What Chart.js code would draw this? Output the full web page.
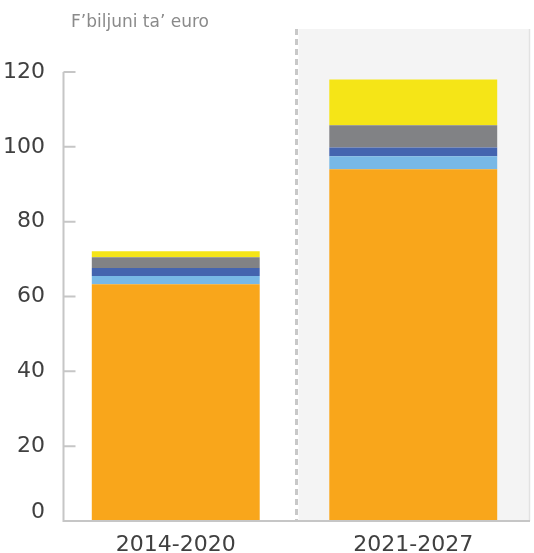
<!DOCTYPE html>
<html>
<head>
<meta charset="utf-8">
<script src="https://cdn.jsdelivr.net/npm/chart.js@4"></script>
<style>
html,body{margin:0;padding:0;background:#fff;}
#wrap{width:534px;height:553px;position:relative;}
</style>
</head>
<body>
<div id="wrap"><canvas id="c" width="534" height="553"></canvas></div>
<script>
const categories = ['2014-2020', '2021-2027'];
const seriesOrange = [63.3, 94.0];
const seriesLightBlue = [2.2, 3.5];
const seriesDarkBlue = [2.1, 2.3];
const seriesGrey = [2.9, 6.0];
const seriesYellow = [1.6, 12.2];
const yTicks = [0, 20, 40, 60, 80, 100, 120];
const unitLabel = 'F\u2019biljuni ta\u2019 euro';

const FONT = "'DejaVu Sans', sans-serif";
const AXIS = '#c6c6c6';

const decor = {
  id: 'decor',
  beforeDatasetsDraw(chart) {
    const ctx = chart.ctx, x = chart.scales.x, y = chart.scales.y, a = chart.chartArea;
    const boundary = (x.getPixelForValue(0) + x.getPixelForValue(1)) / 2 + 2;
    const top = 29;
    ctx.save();
    ctx.fillStyle = '#f4f4f4';
    ctx.fillRect(boundary + 2, top, 529 - (boundary + 2), a.bottom - top);
    ctx.strokeStyle = '#e2e2e2';
    ctx.lineWidth = 1.5;
    ctx.beginPath(); ctx.moveTo(529.5, top); ctx.lineTo(529.5, a.bottom); ctx.stroke();
    ctx.strokeStyle = '#c8c8c8';
    ctx.lineWidth = 3;
    ctx.setLineDash([6, 4]);
    ctx.beginPath(); ctx.moveTo(boundary, top); ctx.lineTo(boundary, a.bottom); ctx.stroke();
    ctx.restore();
  },
  afterDatasetsDraw(chart) {
    const ctx = chart.ctx, y = chart.scales.y;
    const axisX = 63.5;
    const y0 = y.getPixelForValue(0), yTop = y.getPixelForValue(120);
    ctx.save();
    ctx.strokeStyle = AXIS;
    ctx.lineWidth = 2;
    ctx.beginPath();
    ctx.moveTo(axisX, yTop); ctx.lineTo(axisX, y0 + 1);
    ctx.moveTo(axisX - 1, y0); ctx.lineTo(530, y0);
    yTicks.forEach(v => {
      if (v === 0) return;
      const py = y.getPixelForValue(v);
      ctx.moveTo(axisX, py); ctx.lineTo(axisX + 12, py);
    });
    ctx.stroke();
    ctx.fillStyle = '#8a8a8a';
    ctx.font = "17px " + FONT;
    ctx.textBaseline = 'middle';
    ctx.textAlign = 'left';
    ctx.fillText(unitLabel, 71, 23);
    ctx.restore();
  }
};

new Chart(document.getElementById('c'), {
  type: 'bar',
  data: {
    labels: categories,
    datasets: [
      { label: 'Serje 1', data: seriesOrange, backgroundColor: '#F9A61B' },
      { label: 'Serje 2', data: seriesLightBlue, backgroundColor: '#78B8E6' },
      { label: 'Serje 3', data: seriesDarkBlue, backgroundColor: '#4464AF' },
      { label: 'Serje 4', data: seriesGrey, backgroundColor: '#818285' },
      { label: 'Serje 5', data: seriesYellow, backgroundColor: '#F5E517' }
    ]
  },
  options: {
    responsive: false,
    animation: false,
    devicePixelRatio: 1,
    layout: { padding: { top: 72, right: 2, left: 0, bottom: 0 } },
    datasets: { bar: { categoryPercentage: 1, barPercentage: 0.707, borderWidth: 0 } },
    plugins: { legend: { display: false }, tooltip: { enabled: false }, title: { display: false } },
    scales: {
      x: {
        stacked: true,
        grid: { display: false },
        border: { display: false },
        ticks: { color: '#404040', font: { family: FONT, size: 22 }, padding: 3, maxRotation: 0 },
        afterFit(s) { s.height = 32; }
      },
      y: {
        stacked: true,
        min: 0, max: 120,
        afterBuildTicks(s) { s.ticks = yTicks.map(v => ({ value: v })); },
        grid: { display: false },
        border: { display: false },
        ticks: {
          color: '#404040',
          padding: 4,
          font: (ctx) => ctx.tick && ctx.tick.value === 0
            ? { family: FONT, size: 22, lineHeight: 0.8 }
            : { family: FONT, size: 22 },
          callback: (v) => v === 0 ? ['0', ''] : String(v)
        },
        afterFit(s) { s.width = 57; }
      }
    }
  },
  plugins: [decor]
});
</script>
</body>
</html>
